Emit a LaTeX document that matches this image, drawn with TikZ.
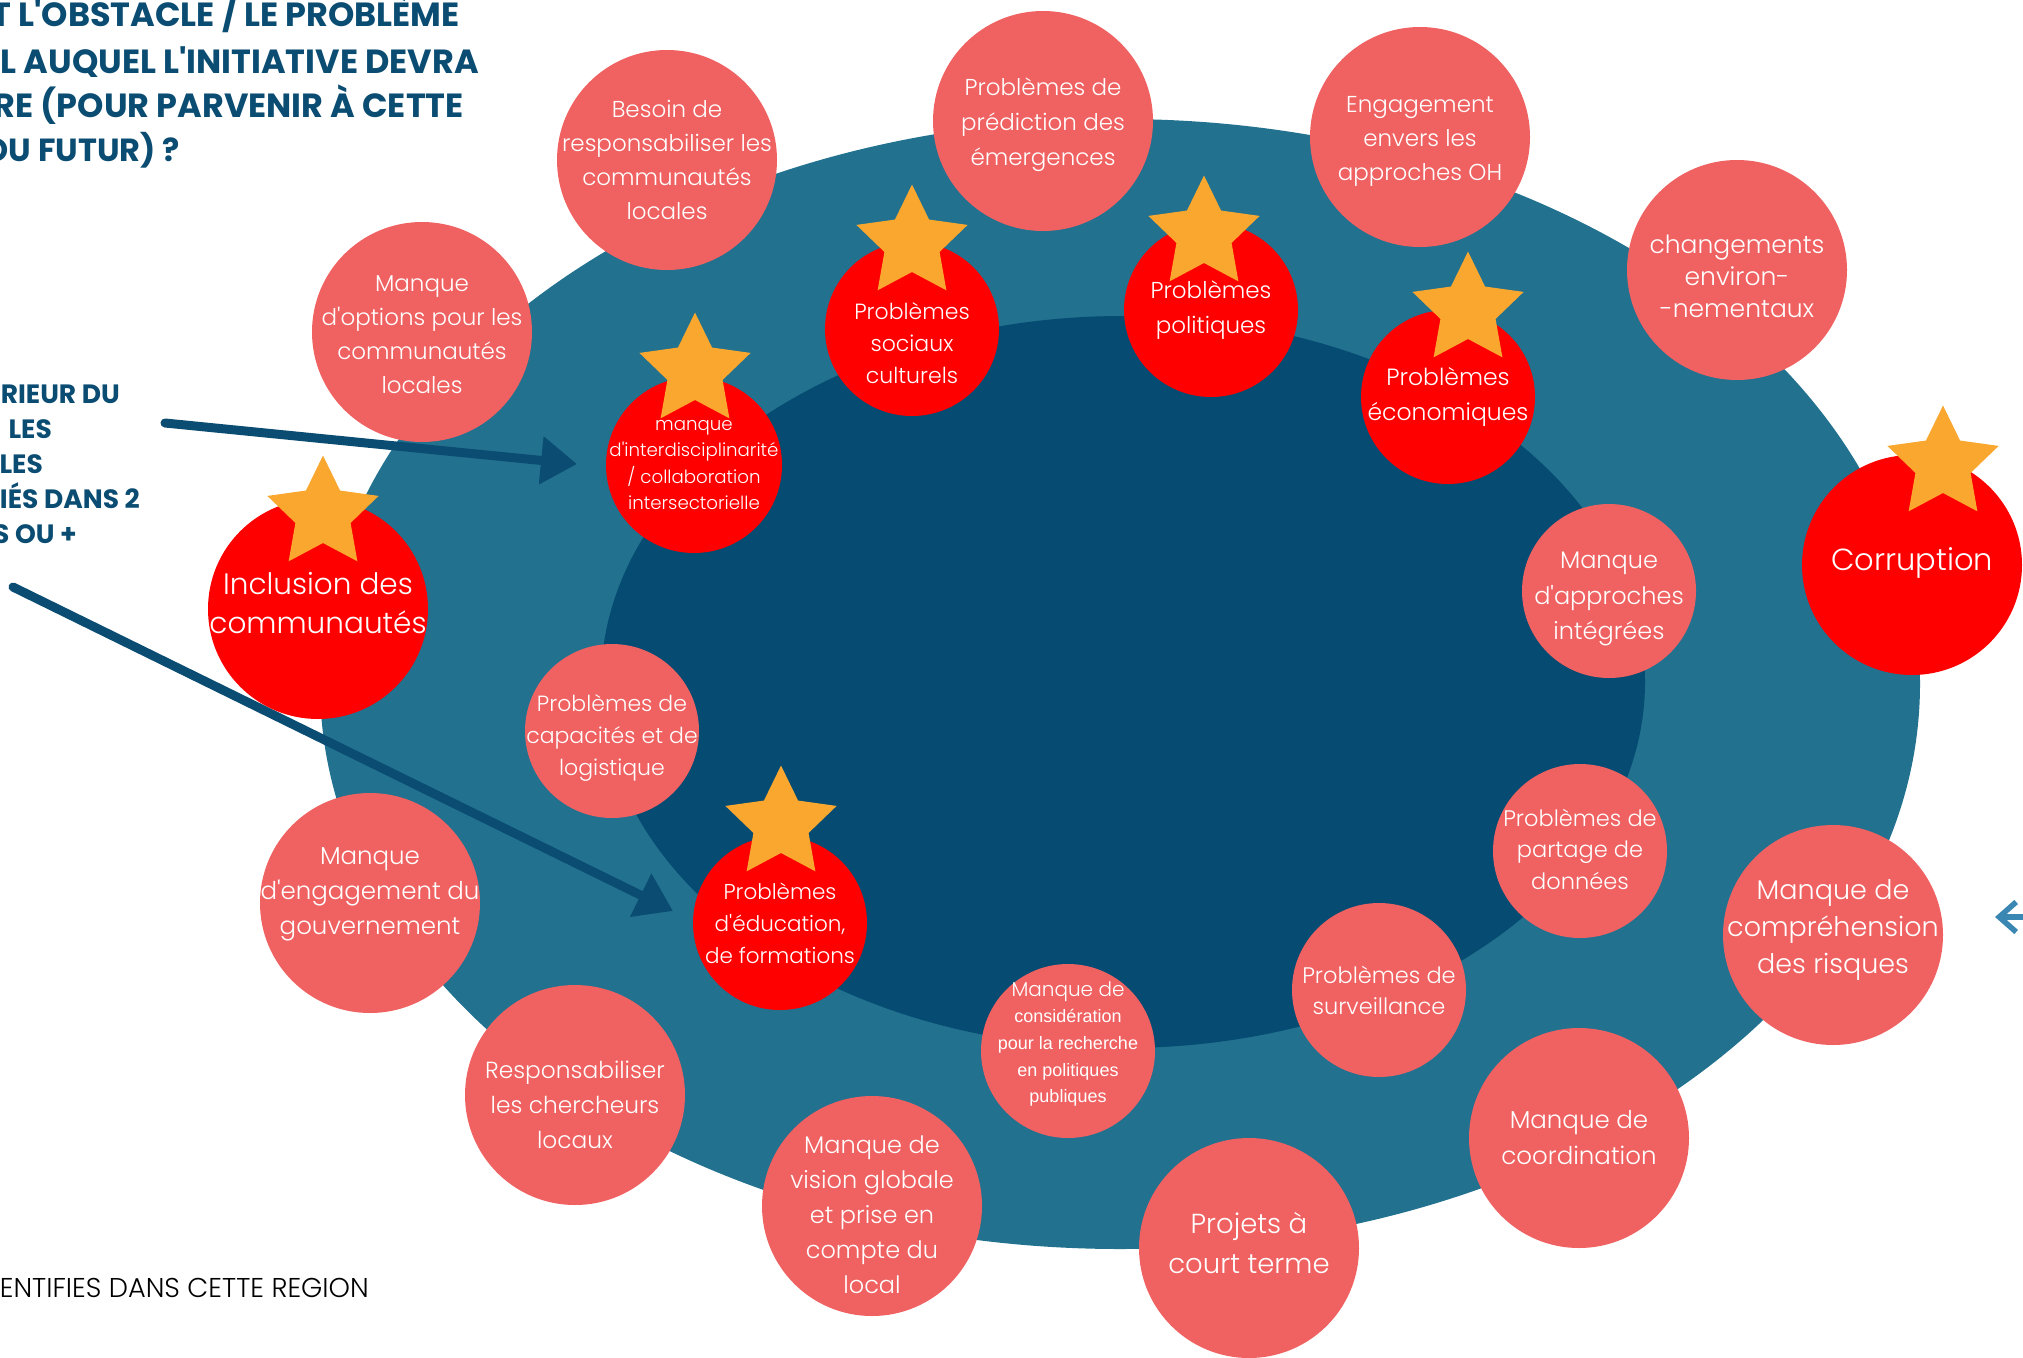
\documentclass[tikz,border=0pt]{standalone}
\usepackage{fontspec}
\setmainfont{Poppins}
\IfFontExistsTF{Poppins Light}{\newfontfamily\lightf{Poppins Light}}{\newcommand\lightf{\rmfamily}}
\newfontfamily\arialf{Liberation Sans}
\usetikzlibrary{shapes.geometric,arrows.meta}
\definecolor{outerc}{HTML}{22718F}
\definecolor{innerc}{HTML}{054B72}
\definecolor{salmonc}{HTML}{F06161}
\definecolor{redc}{HTML}{FF0000}
\definecolor{starc}{HTML}{F9A72E}
\definecolor{hdrc}{HTML}{0A4C72}
\definecolor{lightarr}{HTML}{3A87B4}
\newcommand\fsz[2]{\fontsize{#1pt}{#2pt}\selectfont}
\newcommand\lf[2]{\lightf\fontsize{#1pt}{#2pt}\selectfont}
\newcommand\q{\textquotesingle}
\tikzset{
  blob/.style={circle, inner sep=0pt, draw=none},
  salm/.style={blob, fill=salmonc},
  hot/.style={blob, fill=redc},
  big/.style={minimum size=220pt},
  small/.style={minimum size=174pt},
  lbl/.style={text=white, align=center, inner sep=0pt},
  hdr/.style={text=hdrc, font=\bfseries, inner sep=0pt, anchor=base east},
  darrow/.style={draw=hdrc, line width=9pt, line cap=round, -{Triangle[length=36pt,width=46pt]}},
  pics/fivestar/.style={code={
    \fill[starc] (90:58.5pt) -- (126:29pt) -- (162:58.5pt) -- (198:29pt) -- (234:58.5pt)
      -- (270:29pt) -- (306:58.5pt) -- (342:29pt) -- (18:58.5pt) -- (54:29pt) -- cycle;}},
}
\begin{document}
\begin{tikzpicture}[x=1pt,y=-1pt]
\useasboundingbox (0,0) rectangle (2023,1357);
\begin{scope}
\clip (0,0) rectangle (2023,1357);
% ellipses
\node[ellipse, fill=outerc, draw=none, minimum width=1600pt, minimum height=1130pt, inner sep=0pt] (outer) at (1120,684) {};
\node[ellipse, fill=innerc, draw=none, minimum width=1044pt, minimum height=732pt, inner sep=0pt] (inner) at (1123,682) {};

% header texts
\node[hdr, font=\bfseries\fsz{33.5}{38}] (h1) at (460,27) {T L\q OBSTACLE / LE PROBLÈME};
\node[hdr, font=\bfseries\fsz{33.5}{38}] (h2) at (479,73) {L AUQUEL L\q INITIATIVE DEVRA};
\node[hdr, font=\bfseries\fsz{33.5}{38}] (h3) at (464,117) {RE (POUR PARVENIR À CETTE};
\node[hdr, font=\bfseries\fsz{32}{38}] (h4) at (180,161) {OU FUTUR) ?};

\node[hdr, font=\bfseries\fsz{26.5}{32}] (m1) at (120,403) {RIEUR DU};
\node[hdr, font=\bfseries\fsz{26.5}{32}] (m2) at (52,438) {LES};
\node[hdr, font=\bfseries\fsz{26.5}{32}] (m3) at (43,473) {LES};
\node[hdr, font=\bfseries\fsz{26.5}{32}] (m4) at (140,508) {IÉS DANS 2};
\node[hdr, font=\bfseries\fsz{26.5}{32}] (m5) at (77,543) {S OU +};

\node[inner sep=0pt, anchor=base east, text=black, font=\lf{27.2}{30}] (foot) at (369,1297) {ENTIFIES DANS CETTE REGION};

% arrows
\coordinate (a1s) at (165,423);
\coordinate (a1e) at (577,464);
\draw[darrow] (a1s) -- (a1e);
\coordinate (a2s) at (13,587);
\coordinate (a2e) at (673,911);
\draw[darrow] (a2s) -- (a2e);
\coordinate (a3s) at (2035,917);
\coordinate (a3e) at (1995,917);
\draw[draw=lightarr, line width=5.5pt, -{Straight Barb[length=17pt,width=30pt]}] (a3s) -- (a3e);

% circles
\node[salm, big] (besoin) at (667,160) {};
\node[lbl, font=\lf{23}{34}] (besoin-t) at (besoin) {Besoin de\\responsabiliser les\\communautés\\locales};

\node[salm, big] (predict) at (1043,121) {};
\node[lbl, font=\lf{23}{35}, yshift=-4pt] (predict-t) at (predict) {Problèmes de\\prédiction des\\émergences};

\node[salm, big] (engag) at (1420,137) {};
\node[lbl, font=\lf{23}{34}, yshift=-4pt] (engag-t) at (engag) {Engagement\\envers les\\approches OH};

\node[salm, big] (chang) at (1737,270) {};
\node[lbl, font=\lf{25}{32}, yshift=-6pt] (chang-t) at (chang) {changements\\environ-\\-nementaux};

\node[salm, big] (options) at (422,332) {};
\node[lbl, font=\lf{23}{34}, yshift=-2.5pt] (options-t) at (options) {Manque\\d\q options pour les\\communautés\\locales};

\node[hot, small] (sociaux) at (912,329) {};
\node[lbl, font=\lf{22}{32}, yshift=-14pt] (sociaux-t) at (sociaux) {Problèmes\\sociaux\\culturels};

\node[hot, small] (polit) at (1211,310) {};
\node[lbl, font=\lf{23}{35}] (polit-t) at (polit) {Problèmes\\politiques};

\node[hot, small] (econ) at (1448,397) {};
\node[lbl, font=\lf{23.5}{35}] (econ-t) at (econ) {Problèmes\\économiques};

\node[hot, minimum size=176pt] (interd) at (694,465) {};
\node[lbl, font=\lf{18.2}{26.5}] (interd-t) at (interd) {manque\\d\q interdisciplinarité\\/ collaboration\\intersectorielle};

\node[hot, big] (inclus) at (318,609) {};
\node[lbl, font=\lf{29.5}{39}, yshift=6pt] (inclus-t) at (inclus) {Inclusion des\\communautés};

\node[hot, big] (corr) at (1912,565) {};
\node[lbl, font=\lf{30.5}{39}, yshift=2pt] (corr-t) at (corr) {Corruption};

\node[salm, small] (integ) at (1609,591) {};
\node[lbl, font=\lf{24}{35.5}, yshift=-8pt] (integ-t) at (integ) {Manque\\d\q approches\\intégrées};

\node[salm, small] (capac) at (612,731) {};
\node[lbl, font=\lf{22}{32}, yshift=-6.5pt] (capac-t) at (capac) {Problèmes de\\capacités et de\\logistique};

\node[salm, small] (donnees) at (1580,851) {};
\node[lbl, font=\lf{22.5}{31.5}, yshift=2pt] (donnees-t) at (donnees) {Problèmes de\\partage de\\données};

\node[salm, big] (risques) at (1833,935) {};
\node[lbl, font=\lf{27}{37}, yshift=5pt] (risques-t) at (risques) {Manque de\\compréhension\\des risques};

\node[salm, big] (gouv) at (370,903) {};
\node[lbl, font=\lf{24.5}{35}, yshift=8.5pt] (gouv-t) at (gouv) {Manque\\d\q engagement du\\gouvernement};

\node[hot, small] (educ) at (780,923) {};
\node[lbl, font=\lf{21.5}{32}] (educ-t) at (educ) {Problèmes\\d\q éducation,\\de formations};

\node[salm, small] (consid) at (1068,1051) {};
\node[lbl, font=\arialf\fsz{18}{26.7}, yshift=7pt] (consid-t) at (consid) {{\lf{20}{26.7}Manque de}\\considération\\pour la recherche\\en politiques\\publiques};

\node[salm, small] (surv) at (1379,990) {};
\node[lbl, font=\lf{22.5}{31}] (surv-t) at (surv) {Problèmes de\\surveillance};

\node[salm, big] (cherch) at (575,1095) {};
\node[lbl, font=\lf{23.3}{35}, yshift=-10pt] (cherch-t) at (cherch) {Responsabiliser\\les chercheurs\\locaux};

\node[salm, big] (coord) at (1579,1138) {};
\node[lbl, font=\lf{24.5}{36}] (coord-t) at (coord) {Manque de\\coordination};

\node[salm, big] (vision) at (872,1206) {};
\node[lbl, font=\lf{24}{35}, yshift=-9pt] (vision-t) at (vision) {Manque de\\vision globale\\et prise en\\compte du\\local};

\node[salm, big] (projets) at (1249,1248) {};
\node[lbl, font=\lf{27.5}{40}, yshift=5pt] (projets-t) at (projets) {Projets à\\court terme};

% stars
\pic at (912,243) {fivestar};
\pic at (1204,234) {fivestar};
\pic at (1468,310) {fivestar};
\pic at (695,371) {fivestar};
\pic at (323,514) {fivestar};
\pic at (1943,464) {fivestar};
\pic at (781,824) {fivestar};
\end{scope}
\end{tikzpicture}
\end{document}
